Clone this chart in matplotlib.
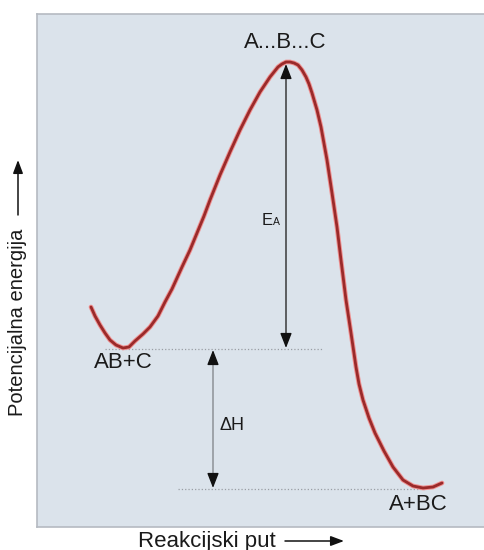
import matplotlib
matplotlib.use('Agg')
import matplotlib.pyplot as plt
import matplotlib.patheffects as pe

plt.rcParams['font.family'] = ['Liberation Sans', 'DejaVu Sans']

# reaction path (x) and potential energy (y)
path = [54, 58, 63, 68, 73, 79, 86, 92, 98, 106, 113, 121, 128, 135, 140, 145,
        153, 160, 167, 173, 183, 193, 203, 213, 223, 233, 241, 245, 249, 253,
        257, 261, 265, 269, 272, 275, 280, 284, 290, 295, 300, 304, 309, 314,
        319, 322, 326, 332, 338, 347, 356, 366, 376, 386, 396, 405]
energy = [220, 211, 202, 194, 187, 182, 179, 180, 186, 193, 200, 211, 225, 238,
          249, 260, 277, 294, 311, 327, 352, 375, 397, 417, 435, 450, 460, 463,
          465, 465, 464, 462, 457, 450, 443, 434, 417, 400, 367, 334, 300, 267,
          227, 194, 160, 143, 127, 109, 94, 76, 60, 47, 41, 39, 40, 44]

E_reactant = 178
E_ts = 465
E_product = 38
x_ts = 249
x_dh = 176

fig = plt.figure(figsize=(4.85, 5.5), dpi=100)
ax = fig.add_axes([37 / 485, 23 / 550, 448 / 485, 513 / 550])
ax.set_xlim(0, 448)
ax.set_ylim(0, 513)
ax.set_facecolor('#dbe3eb')
for s in ax.spines.values():
    s.set_color('#b5bac1')
    s.set_linewidth(1.2)
ax.set_xticks([])
ax.set_yticks([])

# dotted reference levels
ax.plot([68, 285], [E_reactant, E_reactant], ls=':', color='#9a9ea4', lw=0.9)
ax.plot([141, 388], [E_product, E_product], ls=':', color='#9a9ea4', lw=0.9)

# energy curve
ax.plot(path, energy, color='#9a2a2a', lw=2.0, solid_joinstyle='round',
        solid_capstyle='round',
        path_effects=[pe.Stroke(linewidth=3.4, foreground='#ef9090'), pe.Normal()])

head = dict(arrowstyle='-|>,head_length=0.9,head_width=0.35',
            color='#111111', lw=1.0, shrinkA=0, shrinkB=0)

# activation energy arrow
ax.plot([x_ts, x_ts], [E_reactant + 5, E_ts - 5], color='#3a3a3a', lw=1.1)
for y0, y1 in [(E_ts - 14, E_ts - 2), (E_reactant + 14, E_reactant + 1)]:
    ax.annotate('', xy=(x_ts, y1), xytext=(x_ts, y0), arrowprops=head)

# enthalpy arrow
ax.plot([x_dh, x_dh], [E_product + 5, E_reactant - 5], color='#8e9297', lw=1.1)
for y0, y1 in [(E_reactant - 14, E_reactant - 1), (E_product + 14, E_product + 1)]:
    ax.annotate('', xy=(x_dh, y1), xytext=(x_dh, y0), arrowprops=head)

# labels
ax.text(248, 484, 'A...B...C', ha='center', va='center', fontsize=16, color='#1a1a1a')
ax.text(86, 164, 'AB+C', ha='center', va='center', fontsize=16, color='#1a1a1a')
ax.text(381, 22, 'A+BC', ha='center', va='center', fontsize=16, color='#1a1a1a')
ax.text(183, 102, 'ΔH', ha='left', va='center', fontsize=13, color='#1a1a1a')
ax.text(225, 302, 'E', ha='left', va='baseline', fontsize=12, color='#1a1a1a')
ax.text(236, 302, 'A', ha='left', va='baseline', fontsize=7.5, color='#1a1a1a')

# axis titles with arrows
axis_arrow = dict(arrowstyle='-|>,head_length=0.8,head_width=0.3',
                  color='#111111', lw=1.1, shrinkA=0, shrinkB=0)
fig.text(18 / 485, (550 - 322) / 550, 'Potencijalna energija', rotation=90,
         ha='center', va='center', fontsize=14.5, color='#1a1a1a')
ax.annotate('', xy=(18, 390), xytext=(18, 335), xycoords='figure pixels',
            textcoords='figure pixels', arrowprops=axis_arrow, annotation_clip=False)
fig.text(207 / 485, 9 / 550, 'Reakcijski put', ha='center', va='center',
         fontsize=16, color='#1a1a1a')
ax.annotate('', xy=(344, 9), xytext=(285, 9), xycoords='figure pixels',
            textcoords='figure pixels', arrowprops=axis_arrow, annotation_clip=False)

fig.savefig('out.png', dpi=100, facecolor='white')
